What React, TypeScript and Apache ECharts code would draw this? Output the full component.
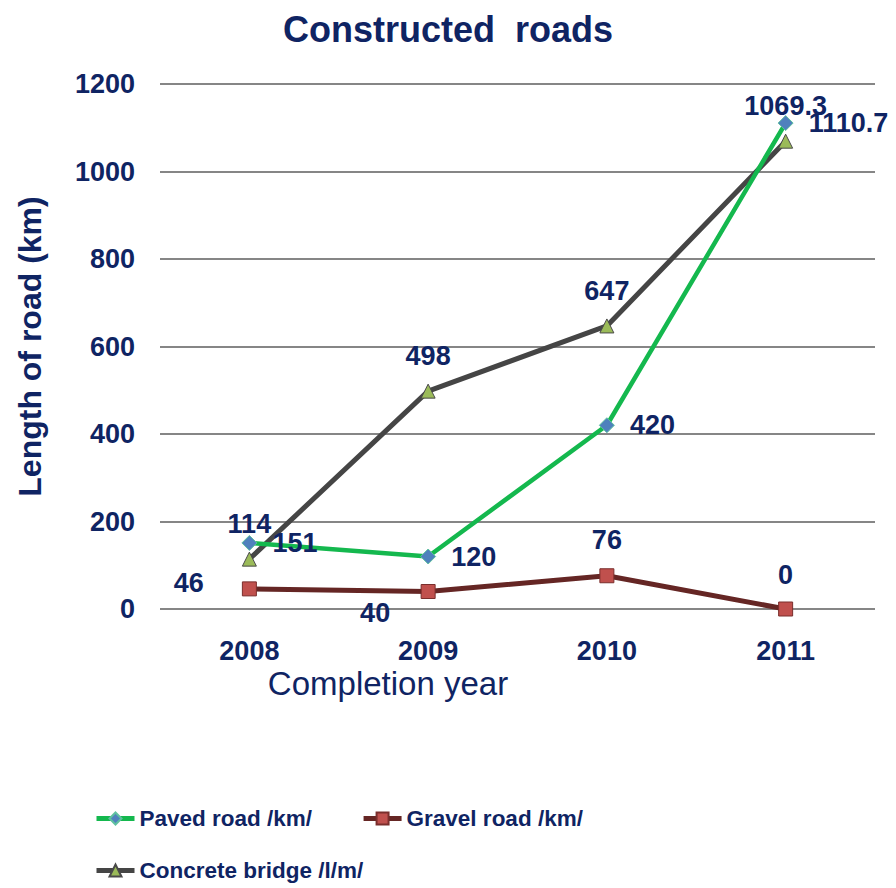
import React, { useEffect, useRef } from "react";
import * as echarts from "echarts";

const years = ["2008", "2009", "2010", "2011"];
const pavedRoad = [151, 120, 420, 1110.7];
const gravelRoad = [46, 40, 76, 0];
const concreteBridge = [114, 498, 647, 1069.3];
const yMin = 0;
const yMax = 1200;
const yInterval = 200;

const seriesNames = ["Paved road /km/", "Gravel road /km/", "Concrete bridge /l/m/"];

const TEXT = "#0f2463";
const FONT = "'Liberation Sans', Arial, sans-serif";

const gravelLabelStyles: any[] = [
  { position: "left", distance: 38, offset: [0, -6] },
  { position: "bottom", distance: 0, offset: [-53, 0] },
  { position: "top", distance: 15 },
  { position: "top", distance: 13 },
];

export default function App() {
  const ref = useRef<HTMLDivElement>(null);
  useEffect(() => {
    if (!ref.current) return;
    const chart = echarts.init(ref.current, null, { renderer: "svg" });
    const labelBase = {
      show: true,
      color: TEXT,
      fontSize: 27,
      fontWeight: "bold",
      fontFamily: FONT,
    };
    const legendText = { color: TEXT, fontSize: 22.5, fontWeight: "bold", fontFamily: FONT };
    chart.setOption({
      animation: false,
      backgroundColor: "#ffffff",
      title: {
        text: "Constructed  roads",
        left: "center",
        top: 6,
        textStyle: { color: TEXT, fontSize: 36, fontWeight: "bold", fontFamily: FONT },
      },
      grid: { left: 160, right: 21, top: 84, bottom: 279, containLabel: false },
      legend: [
        {
          data: [seriesNames[0], seriesNames[1]],
          left: 94,
          top: 807,
          padding: 0,
          orient: "horizontal",
          itemWidth: 38,
          itemHeight: 15,
          itemGap: 49,
          lineStyle: { width: 5 },
          textStyle: legendText,
        },
        {
          data: [seriesNames[2]],
          left: 94,
          top: 859,
          padding: 0,
          itemWidth: 38,
          itemHeight: 15,
          lineStyle: { width: 5 },
          textStyle: legendText,
        },
      ],
      xAxis: {
        type: "category",
        data: years,
        boundaryGap: true,
        axisLine: { show: false },
        axisTick: { show: false },
        axisLabel: { color: TEXT, fontSize: 27, fontWeight: "bold", fontFamily: FONT, margin: 28 },
      },
      yAxis: {
        type: "value",
        min: yMin,
        max: yMax,
        interval: yInterval,
        name: "Length of road (km)",
        nameLocation: "middle",
        nameGap: 114,
        nameTextStyle: { color: TEXT, fontSize: 32, fontWeight: "bold", fontFamily: FONT },
        axisLine: { show: false },
        axisTick: { show: false },
        axisLabel: {
          color: TEXT,
          fontSize: 27,
          fontWeight: "bold",
          fontFamily: FONT,
          margin: 25,
          formatter: (v: number) => String(v),
        },
        splitLine: { lineStyle: { color: "#868686", width: 2 } },
      },
      graphic: [
        {
          type: "text",
          x: 388,
          y: 683,
          style: {
            text: "Completion year",
            fill: TEXT,
            fontSize: 33,
            fontFamily: FONT,
            align: "center",
            verticalAlign: "middle",
          },
        },
      ],
      series: [
        {
          name: seriesNames[0],
          type: "line",
          data: pavedRoad,
          z: 3,
          symbol: "diamond",
          symbolSize: 15,
          lineStyle: { color: "#14b84e", width: 4.5 },
          itemStyle: { color: "#4f81bd", borderColor: "#5fc0a0", borderWidth: 1 },
          label: { ...labelBase, position: "right", distance: 15 },
        },
        {
          name: seriesNames[1],
          type: "line",
          data: gravelRoad.map((v, i) => ({ value: v, label: gravelLabelStyles[i] })),
          z: 2,
          symbol: "rect",
          symbolSize: 14,
          lineStyle: { color: "#652624", width: 5 },
          itemStyle: { color: "#c0504d", borderColor: "#7a2e2c", borderWidth: 1 },
          label: { ...labelBase },
        },
        {
          name: seriesNames[2],
          type: "line",
          data: concreteBridge,
          z: 2,
          symbol: "triangle",
          symbolSize: 14,
          lineStyle: { color: "#454545", width: 5 },
          itemStyle: { color: "#9bbb59", borderColor: "#4a4a4a", borderWidth: 1 },
          label: { ...labelBase, position: "top", distance: 14 },
        },
      ],
    });
    return () => chart.dispose();
  }, []);
  return (
    <div
      ref={ref}
      style={{ position: "fixed", left: 0, top: 0, width: 896, height: 888, background: "#fff" }}
    />
  );
}
